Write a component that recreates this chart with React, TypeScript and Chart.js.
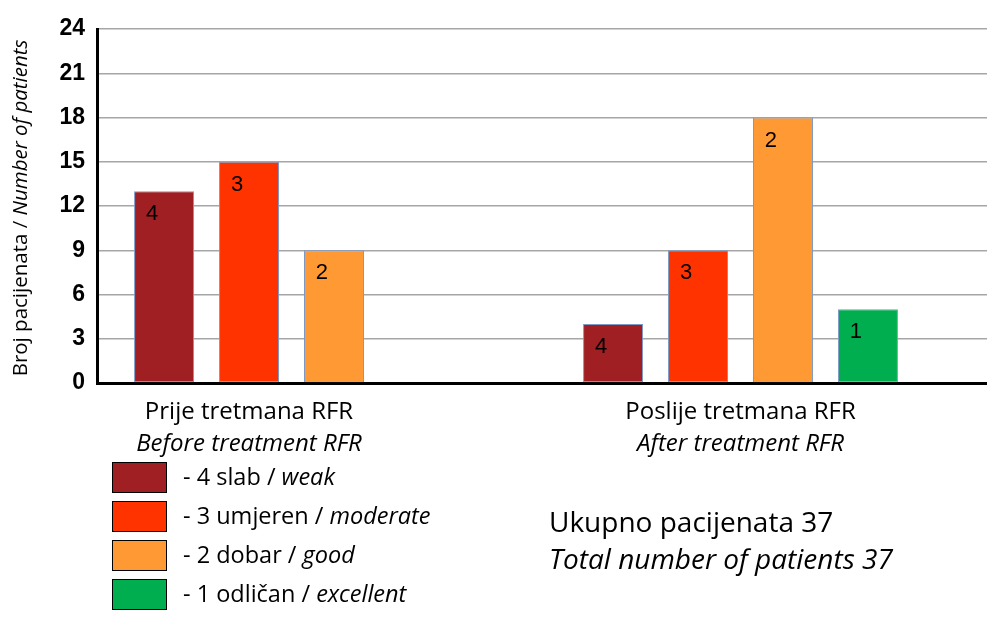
import React, { useEffect, useRef } from 'react';
import { Chart, registerables } from 'chart.js';

Chart.register(...registerables);

// ---- data ----
const groupsHr = ['Prije tretmana RFR', 'Poslije tretmana RFR'];
const groupsEn = ['Before treatment RFR', 'After treatment RFR'];
const gradeNumbers = ['4', '3', '2', '1'];
const gradeHr = ['slab', 'umjeren', 'dobar', 'odličan'];
const gradeEn = ['weak', 'moderate', 'good', 'excellent'];
const weakValues = [13, 4];
const moderateValues = [15, 9];
const goodValues = [9, 18];
const excellentValues: (number | null)[] = [null, 5];
const yTickValues = [0, 3, 6, 9, 12, 15, 18, 21, 24];
const yTitleHr = 'Broj pacijenata / ';
const yTitleEn = 'Number of patients';
const totalHr = 'Ukupno pacijenata 37';
const totalEn = 'Total number of patients 37';

// ---- styles ----
const gradeColors = ['#a01f22', '#ff3300', '#ff9933', '#00ae4f'];
const SANS = '"Open Sans", "Noto Sans", sans-serif';
const ARIAL = '"Liberation Sans", Arial, sans-serif';

const seriesValues = [weakValues, moderateValues, goodValues, excellentValues];

const annotationPlugin = {
  id: 'annotations',
  afterDatasetsDraw(chart: any) {
    const ctx = chart.ctx;
    ctx.save();
    ctx.fillStyle = '#000';
    ctx.font = `22px ${ARIAL}`;
    ctx.textAlign = 'center';
    ctx.textBaseline = 'top';
    chart.data.datasets.forEach((ds: any, di: number) => {
      const meta = chart.getDatasetMeta(di);
      meta.data.forEach((el: any, i: number) => {
        const v = seriesValues[di][i];
        if (v === null || v === undefined) return;
        ctx.fillText(gradeNumbers[di], el.x - 12, el.y + 12);
      });
    });
    ctx.restore();
  },
  afterDraw(chart: any) {
    const ctx = chart.ctx;
    const area = chart.chartArea;
    ctx.save();
    ctx.fillStyle = '#000';

    // y-axis title (mixed fonts, rotated)
    ctx.save();
    ctx.translate(21, (area.top + area.bottom) / 2 + 2);
    ctx.rotate(-Math.PI / 2);
    ctx.textBaseline = 'middle';
    ctx.textAlign = 'left';
    const tf1 = `20.5px ${SANS}`;
    const tf2 = `italic 20.5px ${SANS}`;
    ctx.font = tf1;
    const tw1 = ctx.measureText(yTitleHr).width;
    ctx.font = tf2;
    const tw2 = ctx.measureText(yTitleEn).width;
    const tx = -(tw1 + tw2) / 2;
    ctx.font = tf1;
    ctx.fillText(yTitleHr, tx, 0);
    ctx.font = tf2;
    ctx.fillText(yTitleEn, tx + tw1, 0);
    ctx.restore();

    // category labels under each group
    ctx.textAlign = 'center';
    ctx.textBaseline = 'alphabetic';
    groupsHr.forEach((g, gi) => {
      const xs: number[] = [];
      chart.data.datasets.forEach((ds: any, di: number) => {
        const v = seriesValues[di][gi];
        const el = chart.getDatasetMeta(di).data[gi];
        if (el && v !== null && v !== undefined) xs.push(el.x);
      });
      const cx = (Math.min(...xs) + Math.max(...xs)) / 2;
      ctx.font = `24px ${SANS}`;
      ctx.fillText(g, cx, area.bottom + 36);
      ctx.font = `italic 24px ${SANS}`;
      ctx.fillText(groupsEn[gi], cx, area.bottom + 68);
    });

    // legend
    ctx.textAlign = 'left';
    gradeNumbers.forEach((n, i) => {
      const top = 462 + i * 39;
      ctx.fillStyle = gradeColors[i];
      ctx.fillRect(112, top, 55, 31);
      ctx.strokeStyle = '#000';
      ctx.lineWidth = 1;
      ctx.strokeRect(112.5, top + 0.5, 54, 30);
      ctx.fillStyle = '#000';
      const part1 = `- ${n} ${gradeHr[i]} / `;
      ctx.font = `23.5px ${SANS}`;
      const w = ctx.measureText(part1).width;
      ctx.fillText(part1, 183, top + 23);
      ctx.font = `italic 23.5px ${SANS}`;
      ctx.fillText(gradeEn[i], 183 + w, top + 23);
    });

    // totals
    ctx.font = `28px ${SANS}`;
    ctx.fillText(totalHr, 549, 532);
    ctx.font = `italic 28px ${SANS}`;
    ctx.fillText(totalEn, 549, 569);

    ctx.restore();
  },
};

export default function App() {
  const canvasRef = useRef<HTMLCanvasElement | null>(null);

  useEffect(() => {
    document.body.style.margin = '0';
    const canvas = canvasRef.current;
    if (!canvas) return;
    const datasets = seriesValues.map((vals, di) => ({
      label: `${gradeNumbers[di]} ${gradeHr[di]} / ${gradeEn[di]}`,
      data: vals.map((v, i) => ({ x: i, y: v })),
      backgroundColor: gradeColors[di],
      borderColor: '#7f99c6',
      borderWidth: 1,
      borderSkipped: false,
      categoryPercentage: 0.757,
      barPercentage: 0.706,
    }));
    const chart = new Chart(canvas, {
      type: 'bar',
      data: { datasets } as any,
      plugins: [annotationPlugin],
      options: {
        animation: false,
        responsive: false,
        devicePixelRatio: 1,
        layout: { padding: { left: 0, right: 0, top: 29, bottom: 234 } },
        plugins: {
          legend: { display: false },
          tooltip: { enabled: false },
        },
        scales: {
          x: {
            type: 'linear',
            offset: false,
            min: -0.4332,
            max: 1.549,
            afterBuildTicks: (scale: any) => {
              scale.ticks = groupsHr.map((_, i) => ({ value: i }));
            },
            afterFit: (scale: any) => {
              scale.height = 0;
            },
            ticks: { display: false },
            grid: { display: false, drawTicks: false, offset: false },
            border: { display: true, color: '#000', width: 3 },
          },
          y: {
            min: 0,
            max: 24,
            afterBuildTicks: (scale: any) => {
              scale.ticks = yTickValues.map((v) => ({ value: v }));
            },
            afterFit: (scale: any) => {
              scale.width = 97;
            },
            ticks: {
              padding: 12,
              color: '#000',
              font: { family: ARIAL, size: 23, weight: 'bold' },
            },
            grid: { color: '#a6a6a6', lineWidth: 1.5, drawTicks: false },
            border: { display: true, color: '#000', width: 3 },
          },
        },
      } as any,
    });
    return () => chart.destroy();
  }, []);

  return (
    <div style={{ position: 'absolute', left: 0, top: 0, width: 987, height: 617, background: '#fff' }}>
      <canvas ref={canvasRef} width={987} height={617} />
    </div>
  );
}
